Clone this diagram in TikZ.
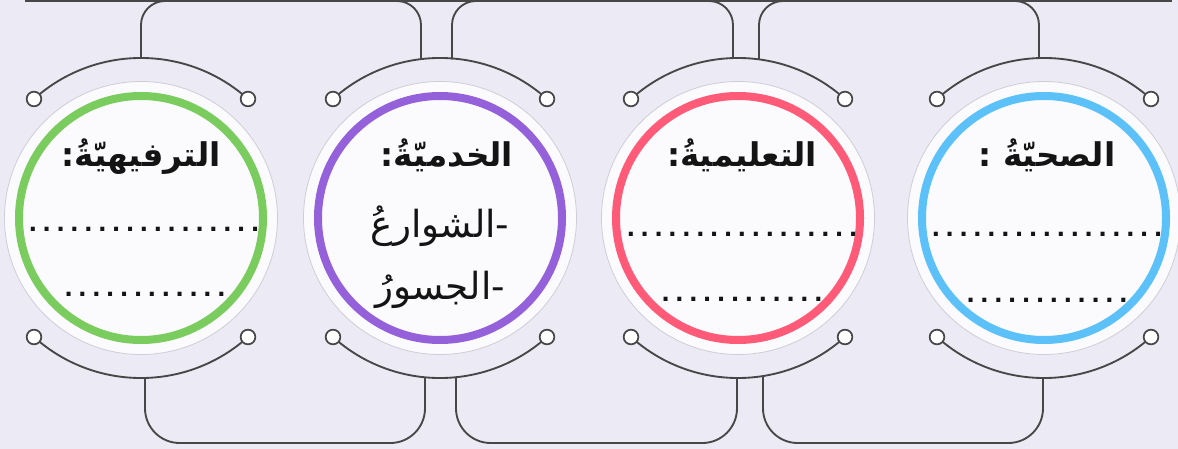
\documentclass[tikz,border=0pt]{standalone}
\usepackage{fontspec}
\usetikzlibrary{calc}
\TeXXeTstate=1
\newfontfamily\arabicfont[Script=Arabic]{DejaVu Sans}
\definecolor{bgc}{HTML}{ECEAF4}
\definecolor{discc}{HTML}{FBFBFD}
\definecolor{edgec}{HTML}{CFCED8}
\definecolor{linec}{HTML}{474747}
\definecolor{gcol}{HTML}{7ACC5E}
\definecolor{pcol}{HTML}{9461DB}
\definecolor{rcol}{HTML}{FF5B78}
\definecolor{bcol}{HTML}{5CC1F9}
\tikzset{
  disc/.style={circle, fill=discc, draw=edgec, line width=0.6pt, minimum size=204.75pt, inner sep=0pt},
  ring/.style={line width=6pt},
  conn/.style={draw=linec, line width=1.4pt},
  knob/.style={circle, fill=white, draw=linec, line width=1.3pt, minimum size=11pt, inner sep=0pt},
  titletext/.style={anchor=base, font=\arabicfont\bfseries\fontsize{24.5pt}{30pt}\selectfont, text=black!92, inner sep=0pt},
  bodytext/.style={anchor=base, font=\arabicfont\fontsize{28pt}{32pt}\selectfont, text=black!92, inner sep=0pt},
  dotstext/.style={anchor=base, font=\arabicfont\bfseries\fontsize{17pt}{20pt}\selectfont, text=black!92, inner sep=0pt},
}
\newcommand\dotrow[1]{\foreach\i in {1,...,#1}{\makebox[10.42pt][c]{.}}}
\newcommand\unitdraw[3]{%
  \node[disc] (#1) at (#2,218) {};
  \draw[ring, draw=#3] (#1.center) circle[radius=122];
  \coordinate (#1TLc) at (#2-107,99);
  \coordinate (#1TRc) at (#2+107,99);
  \coordinate (#1BLc) at (#2-107,337);
  \coordinate (#1BRc) at (#2+107,337);
  \draw[conn] (#1TLc) arc[start angle=228.04, end angle=311.96, radius=160];
  \draw[conn] (#1BLc) arc[start angle=131.96, end angle=48.04, radius=160];
  \node[knob] (#1TL) at (#1TLc) {};
  \node[knob] (#1TR) at (#1TRc) {};
  \node[knob] (#1BL) at (#1BLc) {};
  \node[knob] (#1BR) at (#1BRc) {};
}
\begin{document}
\begin{tikzpicture}[x=0.75pt, y=-0.75pt]
\fill[bgc] (0,0) rectangle (1178,449);
\useasboundingbox (0,0) rectangle (1178,449);

% stems and bus lines
\coordinate (gTop) at (141,58);
\coordinate (pTopL) at (421,59.1);
\coordinate (pTopR) at (452,59.5);
\coordinate (rTopL) at (733,58.1);
\coordinate (rTopR) at (759,59.4);
\coordinate (bTop) at (1039,58.1);
\coordinate (gBot) at (145,378);
\coordinate (pBotL) at (425,377.3);
\coordinate (pBotR) at (456,377.2);
\coordinate (rBotL) at (737,378);
\coordinate (rBotR) at (763,376);
\coordinate (bBot) at (1043,378);
\coordinate (busL) at (25,1);
\coordinate (busR) at (1172,1);

\draw[conn, rounded corners=18] (gTop) -- (gTop |- busL) -- (pTopL |- busL) -- (pTopL);
\draw[conn, rounded corners=18] (pTopR) -- (pTopR |- busL) -- (rTopL |- busL) -- (rTopL);
\draw[conn, rounded corners=18] (rTopR) -- (rTopR |- busL) -- (bTop |- busL) -- (bTop);
\draw[conn, line width=1.8pt] (busL) -- (busR);

\coordinate (busB) at (0,443);
\draw[conn, rounded corners=26] (gBot) -- (gBot |- busB) -- (pBotL |- busB) -- (pBotL);
\draw[conn, rounded corners=26] (pBotR) -- (pBotR |- busB) -- (rBotL |- busB) -- (rBotL);
\draw[conn, rounded corners=26] (rBotR) -- (rBotR |- busB) -- (bBot |- busB) -- (bBot);

\unitdraw{g}{141}{gcol}
\unitdraw{p}{440}{pcol}
\unitdraw{r}{738}{rcol}
\unitdraw{b}{1044}{bcol}

% texts
\node[titletext] (gTitle) at (141,167) {\beginR الترفيهيّةُ:\endR};
\node[titletext] (pTitle) at (447,167) {\beginR الخدميّةُ:\endR};
\node[titletext] (rTitle) at (742,167) {\beginR التعليميةُ:\endR};
\node[titletext] (bTitle) at (1047,167) {\beginR الصحيّةُ :\endR};

\node[bodytext] (pL1) at (440,238) {\beginR -الشوارعُ\endR};
\node[bodytext] (pL2) at (440,299) {\beginR -الجسورُ\endR};

\node[dotstext] (gD1) at (144,231) {\dotrow{17}};
\node[dotstext] (gD2) at (145,296) {\dotrow{12}};
\node[dotstext] (rD1) at (742,236) {\dotrow{17}};
\node[dotstext] (rD2) at (742,301) {\dotrow{12}};
\node[dotstext] (bD1) at (1047,236) {\dotrow{17}};
\node[dotstext] (bD2) at (1047,302) {\dotrow{12}};
\end{tikzpicture}
\end{document}
